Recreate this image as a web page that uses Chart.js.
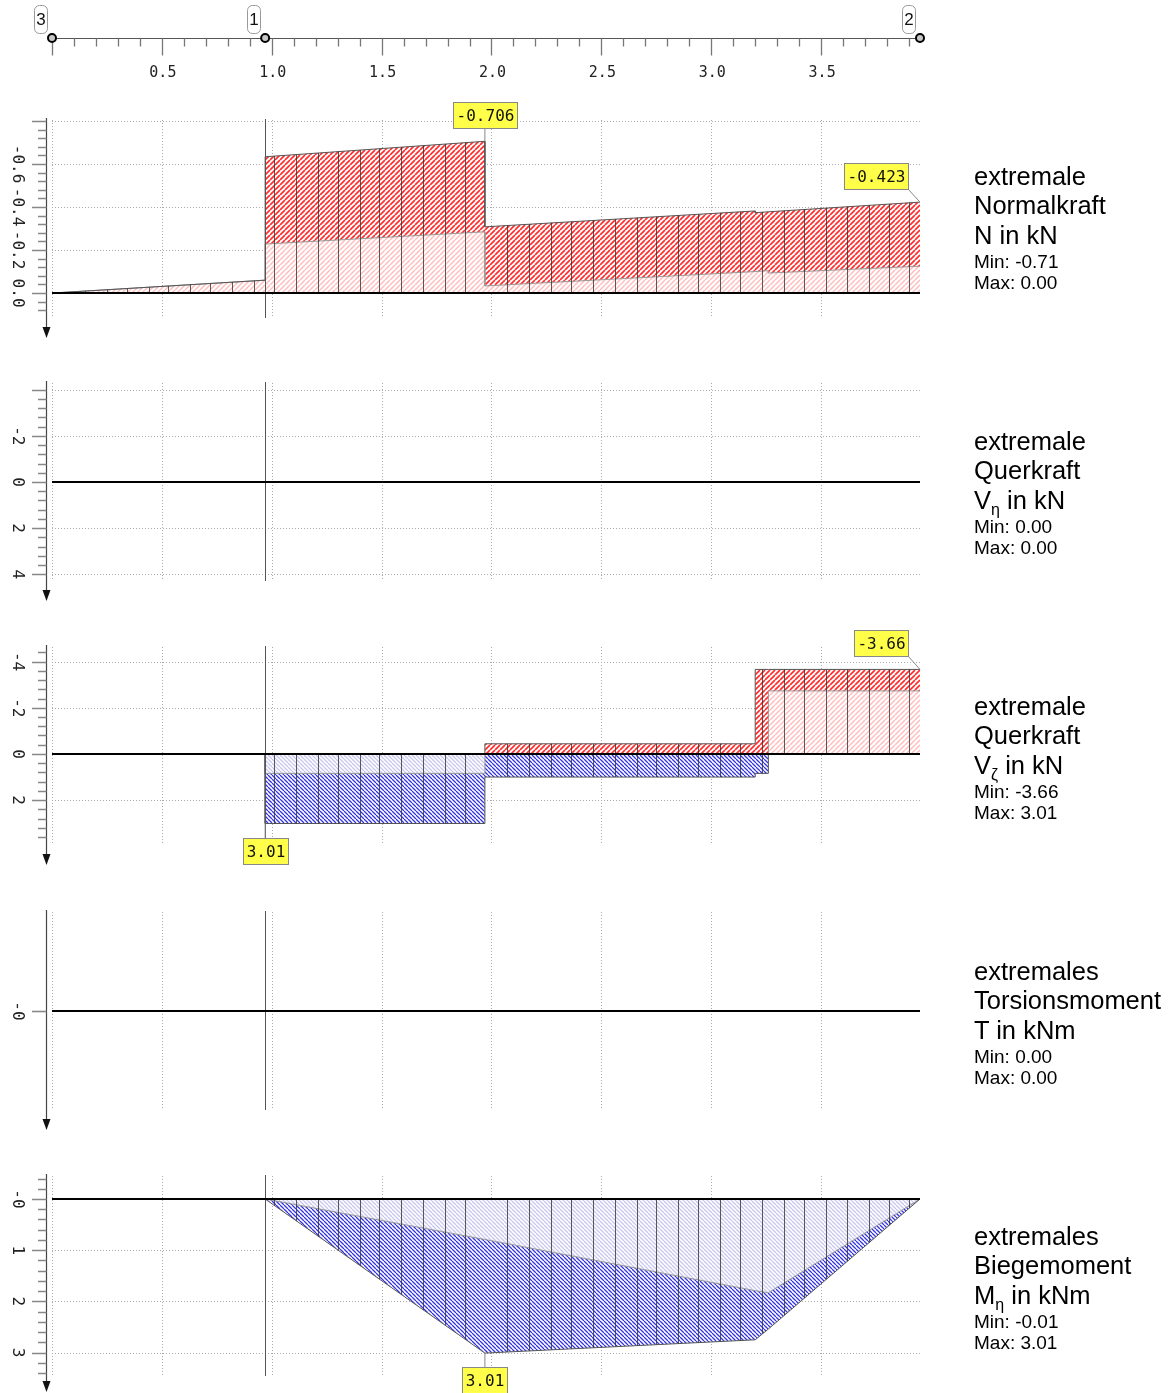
<!DOCTYPE html>
<html><head><meta charset="utf-8">
<script src="https://cdn.jsdelivr.net/npm/chart.js@4.4.1/dist/chart.umd.min.js"></script>
<style>
html,body{margin:0;padding:0;background:#fff;overflow:hidden;}
#wrap{position:relative;width:1169px;height:1393px;overflow:hidden;background:#fff;}
canvas{position:absolute;left:0;}
.lbl{position:absolute;left:974px;font-family:"Liberation Sans",Arial,Helvetica,sans-serif;color:#000;white-space:nowrap;}
.big{font-size:25.5px;line-height:25px;}
.small{font-size:19px;line-height:19px;}
.sub{font-size:16px;position:relative;top:6px;}
</style></head><body><div id="wrap"></div>
<script>
// ---------------- data ----------------
const xMin = 0, xMax = 3.95;
const nodeX = [0, 0.97, 3.95];
const nodeLabels = ['3', '1', '2'];
const xMajorTicks = [0, 0.5, 1.0, 1.5, 2.0, 2.5, 3.0, 3.5];
const xTickLabels = ['', '0.5', '1.0', '1.5', '2.0', '2.5', '3.0', '3.5'];
const stations = [0.06,0.15,0.25,0.34,0.44,0.53,0.63,0.72,0.82,0.92,
  1.01,1.11,1.21,1.30,1.40,1.49,1.59,1.69,1.79,1.88,
  2.07,2.17,2.27,2.36,2.46,2.56,2.66,2.75,2.85,2.94,3.04,3.13,3.23,3.33,3.42,3.52,3.62,3.72,3.81,3.90];

// Normalkraft N [kN]
const nX     = [0, 0.97, 0.97, 1.97, 1.97, 3.2, 3.2, 3.26, 3.26, 3.95];
const nOuter = [0, -0.06, -0.634, -0.706, -0.308, -0.382, -0.374, -0.378, -0.378, -0.423];
const nInner = [0, -0.06, -0.228, -0.285, -0.033, -0.100, -0.100, -0.104, -0.093, -0.125];
const nTickVals = [-0.6, -0.4, -0.2, 0];
const nTickLabels = ['-0.6', '-0.4', '-0.2', '0.0'];

// Querkraft V_eta [kN]
const vyX = [0, 3.95];
const vyVal = [0, 0];
const vyTickVals = [-2, 0, 2, 4];
const vyTickLabels = ['-2', '0', '2', '4'];

// Querkraft V_zeta [kN]
const vzX        = [0, 0.97, 0.97, 1.97, 1.97, 3.2, 3.2, 3.26, 3.26, 3.95];
const vzMinOuter = [0, 0, 0, 0, -0.44, -0.44, -3.66, -3.66, -3.66, -3.66];
const vzMinInner = [0, 0, 0, 0, 0, 0, 0, 0, -2.73, -2.73];
const vzMaxOuter = [0, 0, 3.01, 3.01, 1.0, 1.0, 0.84, 0.84, 0, 0];
const vzMaxInner = [0, 0, 0.84, 0.84, 0, 0, 0, 0, 0, 0];
const vzTickVals = [-4, -2, 0, 2];
const vzTickLabels = ['-4', '-2', '0', '2'];

// Torsionsmoment T [kNm]
const tX = [0, 3.95];
const tVal = [0, 0];
const tTickVals = [0];
const tTickLabels = ['-0'];

// Biegemoment M_eta [kNm]
const mX     = [0, 0.97, 1.97, 3.2, 3.26, 3.95];
const mOuter = [0, 0, 3.01, 2.75, 2.54, 0];
const mInner = [0, 0, 0.79, 1.79, 1.83, 0];
const mTickVals = [0, 1, 2, 3];
const mTickLabels = ['-0', '1', '2', '3'];

const titles = [
  ['extremale', 'Normalkraft', 'N in kN', 'Min: -0.71', 'Max: 0.00'],
  ['extremale', 'Querkraft', 'V<span class="sub">η</span> in kN', 'Min: 0.00', 'Max: 0.00'],
  ['extremale', 'Querkraft', 'V<span class="sub">ζ</span> in kN', 'Min: -3.66', 'Max: 3.01'],
  ['extremales', 'Torsionsmoment', 'T in kNm', 'Min: 0.00', 'Max: 0.00'],
  ['extremales', 'Biegemoment', 'M<span class="sub">η</span> in kNm', 'Min: -0.01', 'Max: 3.01']
];

// ---------------- helpers ----------------
const wrap = document.getElementById('wrap');
function pts(xs, ys) { return xs.map((x, i) => ({ x: x, y: ys[i] })); }
function hatch(color, dir, p, lw) {
  const c = document.createElement('canvas');
  c.width = p; c.height = p;
  const g = c.getContext('2d');
  g.fillStyle = '#fff'; g.fillRect(0, 0, p, p);
  g.strokeStyle = color; g.lineWidth = lw;
  g.beginPath();
  for (let k = -1; k <= 1; k++) {
    if (dir > 0) { g.moveTo(k * p, p); g.lineTo(k * p + p, 0); }
    else { g.moveTo(k * p, 0); g.lineTo(k * p + p, p); }
  }
  g.stroke();
  return g.createPattern(c, 'repeat');
}
const redDark = hatch('#ff2e2e', 1, 5, 1.7), redLight = hatch('#ffbdbd', 1, 5, 1.5);
const blueDark = hatch('#3434e0', -1, 4, 1.3), blueLight = hatch('#c6c6ee', -1, 4, 1.3);

function envelope(xs, outer, inner, dark, light) {
  return [
    { data: pts(xs, outer), fill: 'origin', backgroundColor: dark, borderColor: 'rgba(0,0,0,0)', borderWidth: 1, order: 10, stationClip: true },
    { data: pts(xs, inner), fill: 'origin', backgroundColor: light, borderColor: 'rgba(0,0,0,0)', borderWidth: 1, order: 9 },
    { data: pts(xs, inner), fill: false, borderColor: '#9a9a9a', borderWidth: 1, order: 8 },
    { data: pts(xs, outer), fill: false, borderColor: '#555', borderWidth: 1, order: 7 }
  ];
}
function zeroLine(xs, ys) {
  return { data: pts(xs, ys), fill: false, borderColor: '#000', borderWidth: 2, order: 0 };
}

const panelPlugin = {
  id: 'panelDeco',
  beforeDatasetsDraw(chart) {
    const cfg = chart.config.options.plugins.panelDeco;
    const ctx = chart.ctx, a = chart.chartArea, xs = chart.scales.x, ys = chart.scales.y;
    ctx.save();
    ctx.strokeStyle = '#aaa'; ctx.lineWidth = 1; ctx.setLineDash([1, 2]);
    ctx.beginPath();
    xMajorTicks.forEach(v => { const px = Math.round(xs.getPixelForValue(v)) + 0.5; ctx.moveTo(px, a.top); ctx.lineTo(px, a.bottom); });
    cfg.grid.forEach(v => { const py = Math.round(ys.getPixelForValue(v)) + 0.5; ctx.moveTo(xs.getPixelForValue(0), py); ctx.lineTo(xs.getPixelForValue(xMax), py); });
    ctx.stroke();
    ctx.restore();
  },
  afterDatasetsDraw(chart) {
    const ctx = chart.ctx, a = chart.chartArea, xs = chart.scales.x, ys = chart.scales.y;
    const y0 = ys.getPixelForValue(0);
    chart.data.datasets.forEach((ds, i) => {
      if (!ds.stationClip) return;
      const p = chart.getDatasetMeta(i).data;
      ctx.save();
      ctx.beginPath();
      ctx.moveTo(p[0].x, y0);
      p.forEach(q => ctx.lineTo(q.x, q.y));
      ctx.lineTo(p[p.length - 1].x, y0);
      ctx.closePath();
      ctx.clip();
      ctx.beginPath();
      stations.forEach(s => { const px = Math.round(xs.getPixelForValue(s)) + 0.5; ctx.moveTo(px, a.top); ctx.lineTo(px, a.bottom); });
      ctx.strokeStyle = 'rgba(50,50,50,0.8)'; ctx.lineWidth = 1;
      ctx.stroke();
      ctx.restore();
    });
    ctx.save();
    const nx = Math.round(xs.getPixelForValue(nodeX[1])) + 0.5;
    ctx.strokeStyle = '#555'; ctx.lineWidth = 1;
    ctx.beginPath(); ctx.moveTo(nx, a.top - 1); ctx.lineTo(nx, a.bottom); ctx.stroke();
    ctx.strokeStyle = '#000'; ctx.lineWidth = 2;
    ctx.beginPath(); ctx.moveTo(xs.getPixelForValue(0), y0); ctx.lineTo(xs.getPixelForValue(xMax), y0); ctx.stroke();
    ctx.restore();
  },
  afterDraw(chart) {
    const cfg = chart.config.options.plugins.panelDeco;
    const ctx = chart.ctx, a = chart.chartArea, xs = chart.scales.x, ys = chart.scales.y;
    const ax = 46.5;
    const tip = Math.min(a.bottom + 20, chart.height - 1);
    ctx.save();
    ctx.strokeStyle = '#444'; ctx.lineWidth = 1.2;
    ctx.beginPath(); ctx.moveTo(ax, a.top - 2); ctx.lineTo(ax, tip - 8); ctx.stroke();
    ctx.fillStyle = '#111';
    ctx.beginPath(); ctx.moveTo(ax, tip); ctx.lineTo(ax - 4, tip - 11); ctx.lineTo(ax + 4, tip - 11); ctx.closePath(); ctx.fill();
    ctx.strokeStyle = '#888'; ctx.lineWidth = 1.6;
    ctx.beginPath();
    const n = Math.round((cfg.tickTo - cfg.tickFrom) / cfg.tickStep);
    for (let k = 0; k <= n; k++) {
      const v = cfg.tickFrom + k * cfg.tickStep;
      const r = v / cfg.majorStep;
      const major = Math.abs(r - Math.round(r)) < 1e-6;
      const py = Math.round(ys.getPixelForValue(v)) + 0.5;
      ctx.moveTo(major ? 32 : 38, py); ctx.lineTo(ax, py);
    }
    ctx.stroke();
    ctx.fillStyle = '#222';
    ctx.font = '16px "DejaVu Sans Mono", monospace';
    ctx.textAlign = 'center'; ctx.textBaseline = 'middle';
    cfg.labelVals.forEach((v, i) => {
      const py = ys.getPixelForValue(v);
      ctx.save(); ctx.translate(17, py); ctx.rotate(Math.PI / 2);
      ctx.fillText(cfg.labels[i], 0, 0);
      ctx.restore();
    });
    ctx.font = '16px "DejaVu Sans Mono", monospace';
    (cfg.callouts || []).forEach(c => {
      const px = xs.getPixelForValue(c.x), py = ys.getPixelForValue(c.y);
      const tw = ctx.measureText(c.text).width;
      const bw = Math.round(tw + 6), bh = 26;
      let bx, by, lx, ly;
      if (c.place === 'above') { bx = Math.round(px - bw / 2); by = Math.round(py - 13 - bh); lx = px; ly = by + bh; }
      else if (c.place === 'below') { bx = Math.round(px - bw / 2); by = Math.round(py + 14); lx = px; ly = by; }
      else { bx = Math.round(px - 12 - bw); by = Math.round(py - 13 - bh); lx = bx + bw; ly = by + bh; }
      ctx.strokeStyle = '#888'; ctx.lineWidth = 1;
      ctx.beginPath(); ctx.moveTo(px, py); ctx.lineTo(lx, ly); ctx.stroke();
      ctx.fillStyle = '#ffff4a';
      ctx.fillRect(bx + 0.5, by + 0.5, bw, bh);
      ctx.strokeRect(bx + 0.5, by + 0.5, bw, bh);
      ctx.fillStyle = '#111'; ctx.textAlign = 'center'; ctx.textBaseline = 'middle';
      ctx.fillText(c.text, bx + 0.5 + bw / 2, by + bh / 2 + 1.5);
    });
    ctx.restore();
  }
};

function makeCanvas(top, h) {
  const c = document.createElement('canvas');
  c.width = 1169; c.height = h;
  c.style.top = top + 'px'; c.style.width = '1169px'; c.style.height = h + 'px';
  wrap.appendChild(c);
  return c;
}

function makePanel(p) {
  const c = makeCanvas(p.top, p.h);
  new Chart(c, {
    type: 'line',
    data: { datasets: p.datasets },
    options: {
      responsive: false, animation: false, devicePixelRatio: 1,
      layout: { padding: { left: 52, right: 249, top: p.areaTop - p.top, bottom: p.top + p.h - p.areaBottom } },
      elements: { point: { radius: 0, hoverRadius: 0 }, line: { tension: 0 } },
      scales: {
        x: { type: 'linear', min: xMin, max: xMax, display: false },
        y: { type: 'linear', min: p.yMin, max: p.yMax, reverse: true, display: false }
      },
      plugins: { legend: { display: false }, tooltip: { enabled: false }, panelDeco: p.deco }
    },
    plugins: [panelPlugin]
  });
}

// ---------------- top axis ----------------
(function () {
  const c = makeCanvas(0, 95);
  new Chart(c, {
    type: 'scatter',
    data: { datasets: [{ data: nodeX.map(x => ({ x: x, y: 0 })), pointRadius: 4, pointBorderWidth: 2, pointBorderColor: '#000', pointBackgroundColor: '#c8c8c8' }] },
    options: {
      responsive: false, animation: false, devicePixelRatio: 1,
      layout: { padding: { left: 52, right: 249, top: 28, bottom: 47 } },
      scales: { x: { type: 'linear', min: xMin, max: xMax, display: false }, y: { min: -1, max: 1, display: false } },
      plugins: { legend: { display: false }, tooltip: { enabled: false } },
      clip: false
    },
    plugins: [{
      id: 'topAxis',
      beforeDatasetsDraw(chart) {
        const ctx = chart.ctx, xs = chart.scales.x, ys = chart.scales.y;
        const y = Math.round(ys.getPixelForValue(0)) + 0.5;
        ctx.save();
        ctx.strokeStyle = '#555'; ctx.lineWidth = 1;
        ctx.beginPath(); ctx.moveTo(xs.getPixelForValue(0), y); ctx.lineTo(xs.getPixelForValue(xMax), y); ctx.stroke();
        ctx.strokeStyle = '#777'; ctx.lineWidth = 1.3;
        ctx.beginPath();
        for (let k = 0; k <= 39; k++) {
          const v = k / 10;
          const px = Math.round(xs.getPixelForValue(v)) + 0.5;
          const major = k % 5 === 0;
          ctx.moveTo(px, y); ctx.lineTo(px, y + (major ? 17 : 8));
        }
        ctx.stroke();
        ctx.fillStyle = '#222'; ctx.font = '15px "DejaVu Sans Mono", monospace';
        ctx.textAlign = 'center'; ctx.textBaseline = 'middle';
        xMajorTicks.forEach((v, i) => { if (xTickLabels[i]) ctx.fillText(xTickLabels[i], xs.getPixelForValue(v) + 1, 73.5); });
        ctx.font = '17px "Liberation Sans", Arial, sans-serif';
        nodeX.forEach((v, i) => {
          const px = xs.getPixelForValue(v);
          const bx = Math.round(px) - 18, by = 5, bw = 13, bh = 28;
          ctx.beginPath();
          if (ctx.roundRect) ctx.roundRect(bx + 0.5, by + 0.5, bw, bh, 5); else ctx.rect(bx + 0.5, by + 0.5, bw, bh);
          ctx.fillStyle = '#fff'; ctx.fill();
          ctx.strokeStyle = '#999'; ctx.lineWidth = 1; ctx.stroke();
          ctx.fillStyle = '#111';
          ctx.fillText(nodeLabels[i], bx + 0.5 + bw / 2, by + bh / 2 + 1);
        });
        ctx.restore();
      }
    }]
  });
})();

// ---------------- panels ----------------
makePanel({
  top: 95, h: 255, areaTop: 120, areaBottom: 318, yMin: -0.805, yMax: 0.116,
  datasets: envelope(nX, nOuter, nInner, redDark, redLight).concat([zeroLine([0, xMax], [0, 0])]),
  deco: { grid: [-0.8, -0.6, -0.4, -0.2], tickFrom: -0.8, tickTo: 0.08, tickStep: 0.04, majorStep: 0.2,
    labelVals: nTickVals, labels: nTickLabels,
    callouts: [{ x: 1.97, y: -0.706, text: '-0.706', place: 'above' }, { x: 3.95, y: -0.423, text: '-0.423', place: 'upleft' }] }
});
makePanel({
  top: 350, h: 265, areaTop: 383, areaBottom: 581, yMin: -4.29, yMax: 4.29,
  datasets: [zeroLine(vyX, vyVal)],
  deco: { grid: [-4, -2, 2, 4], tickFrom: -4, tickTo: 4, tickStep: 0.4, majorStep: 2,
    labelVals: vyTickVals, labels: vyTickLabels, callouts: [] }
});
makePanel({
  top: 615, h: 265, areaTop: 647, areaBottom: 845, yMin: -4.63, yMax: 3.94,
  datasets: envelope(vzX, vzMinOuter, vzMinInner, redDark, redLight)
    .concat(envelope(vzX, vzMaxOuter, vzMaxInner, blueDark, blueLight))
    .concat([zeroLine([0, xMax], [0, 0])]),
  deco: { grid: [-4, -2, 2], tickFrom: -4.4, tickTo: 3.6, tickStep: 0.4, majorStep: 2,
    labelVals: vzTickVals, labels: vzTickLabels,
    callouts: [{ x: 0.97, y: 3.01, text: '3.01', place: 'below' }, { x: 3.95, y: -3.66, text: '-3.66', place: 'upleft' }] }
});
makePanel({
  top: 880, h: 265, areaTop: 912, areaBottom: 1110, yMin: -1, yMax: 1,
  datasets: [zeroLine(tX, tVal)],
  deco: { grid: [], tickFrom: 0, tickTo: 0, tickStep: 1, majorStep: 1,
    labelVals: tTickVals, labels: tTickLabels, callouts: [] }
});
makePanel({
  top: 1145, h: 248, areaTop: 1176, areaBottom: 1376, yMin: -0.449, yMax: 3.457,
  datasets: envelope(mX, mOuter, mInner, blueDark, blueLight).concat([zeroLine([0, xMax], [0, 0])]),
  deco: { grid: [1, 2, 3], tickFrom: -0.4, tickTo: 3.4, tickStep: 0.2, majorStep: 1,
    labelVals: mTickVals, labels: mTickLabels,
    callouts: [{ x: 1.97, y: 3.01, text: '3.01', place: 'below' }] }
});

// ---------------- right-hand titles ----------------
titles.forEach((t, i) => {
  const b = 185 + 265 * i;
  const base = [b, b + 29.5, b + 59, b + 83, b + 104];
  t.forEach((txt, j) => {
    const d = document.createElement('div');
    const big = j < 3;
    d.className = 'lbl ' + (big ? 'big' : 'small');
    d.style.top = (base[j] - (big ? 21.2 : 16.1)) + 'px';
    d.innerHTML = txt;
    wrap.appendChild(d);
  });
});
</script></body></html>
